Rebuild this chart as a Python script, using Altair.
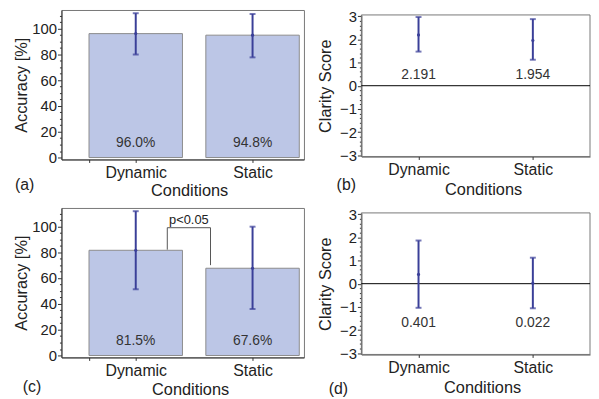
import altair as alt
import pandas as pd

conditions = ["Dynamic", "Static"]
positions = [1, 2]

# (a) accuracy
acc_a_mean = [96.0, 94.8]
acc_a_lo = [79.8, 77.6]
acc_a_hi = [111.8, 111.2]
acc_a_text = ["96.0%", "94.8%"]

# (c) accuracy
acc_c_mean = [81.5, 67.6]
acc_c_lo = [51.3, 36.0]
acc_c_hi = [111.8, 99.8]
acc_c_text = ["81.5%", "67.6%"]

# (b) clarity
clar_b_mean = [2.191, 1.954]
clar_b_lo = [1.47, 1.12]
clar_b_hi = [2.96, 2.87]
clar_b_text = ["2.191", "1.954"]

# (d) clarity
clar_d_mean = [0.401, 0.022]
clar_d_lo = [-1.04, -1.06]
clar_d_hi = [1.86, 1.12]
clar_d_text = ["0.401", "0.022"]

# significance bracket in (c)
bracket_x = [1.27, 1.64]
bracket_y_bottom = [82, 70]
bracket_y_top = 99
bracket_label = "p<0.05"

FONT = "Liberation Sans"
BAR_FILL = "#bcc6e6"
BAR_STROKE = "#8c8c8c"
FRAME = "#777777"
ERR = "#3a3f98"
TXT = "#222222"

label_expr = "datum.value == 1 ? '" + conditions[0] + "' : (datum.value == 2 ? '" + conditions[1] + "' : '')"


def make_df(mean, lo, hi, text, label_y):
    df = pd.DataFrame({"cond": conditions, "pos": positions, "mean": mean,
                       "lo": lo, "hi": hi, "text": text})
    df["x0"] = df["pos"] - 0.4
    df["x1"] = df["pos"] + 0.4
    df["base"] = 0.0
    df["ly"] = label_y
    return df


def errorbars(df, X, Y):
    rule = alt.Chart(df).mark_rule(color=ERR, strokeWidth=2).encode(
        x=X("pos"), y=Y("lo"), y2="hi")
    cap_hi = alt.Chart(df).mark_tick(color=ERR, orient="horizontal", size=6, thickness=2).encode(
        x=X("pos"), y=Y("hi"))
    cap_lo = alt.Chart(df).mark_tick(color=ERR, orient="horizontal", size=6, thickness=2).encode(
        x=X("pos"), y=Y("lo"))
    dot = alt.Chart(df).mark_point(color=ERR, filled=True, size=10, opacity=1).encode(
        x=X("pos"), y=Y("mean"))
    return [rule, cap_hi, cap_lo, dot]


def tag_layer(tag, tx, ty):
    return alt.Chart(pd.DataFrame({"t": [tag]})).mark_text(
        align="left", baseline="middle", fontSize=16, font=FONT, color=TXT).encode(
        x=alt.value(tx), y=alt.value(ty), text="t:N")


def bar_panel(mean, lo, hi, text, tag, tx, ty, xtitle_x, xtitle_y, bracket=False):
    df = make_df(mean, lo, hi, text, 11)
    xs = alt.Scale(domain=[0.364, 2.44], nice=False, zero=False)
    ys = alt.Scale(domain=[-1.5, 114.3], nice=False, zero=False)
    xaxis = alt.Axis(values=[0.6, 1, 2], labelExpr=label_expr, title="Conditions",
                     tickSize=3, labelPadding=2, labelFlush=False, labelOverlap=False,
                     titleX=xtitle_x, titleY=xtitle_y, titleBaseline="middle")
    major = "datum.value % 20 == 0"
    yvals = list(range(0, 115, 5))
    yaxis = alt.Axis(values=yvals, labelExpr=major + " ? datum.label : ''",
                     title="Accuracy [%]",
                     labelFontSize={"condition": {"test": major, "value": 15}, "value": 0},
                     tickSize={"condition": {"test": major, "value": 4}, "value": 2},
                     labelPadding=1, labelFlush=False, labelOverlap=False,
                     titleX=-40, titleBaseline="middle")

    def X(f):
        return alt.X(f, type="quantitative", scale=xs, axis=xaxis)

    def Y(f):
        return alt.Y(f, type="quantitative", scale=ys, axis=yaxis)

    bars = alt.Chart(df).mark_rect(fill=BAR_FILL, stroke=BAR_STROKE, strokeWidth=1).encode(
        x=X("x0"), x2="x1", y=Y("mean"), y2="base")
    labels = alt.Chart(df).mark_text(fontSize=14, font=FONT, color="#333333", baseline="middle").encode(
        x=X("pos"), y=Y("ly"), text="text:N")
    layers = [bars] + errorbars(df, X, Y) + [labels]
    if bracket:
        bdf = pd.DataFrame({
            "x": [bracket_x[0], bracket_x[0], bracket_x[1]],
            "x2": [bracket_x[0], bracket_x[1], bracket_x[1]],
            "y": [bracket_y_bottom[0], bracket_y_top, bracket_y_bottom[1]],
            "y2": [bracket_y_top, bracket_y_top, bracket_y_top],
        })
        br = alt.Chart(bdf).mark_rule(color="#555555", strokeWidth=1).encode(
            x=X("x"), x2="x2", y=Y("y"), y2="y2")
        ldf = pd.DataFrame({"x": [(bracket_x[0] + bracket_x[1]) / 2], "y": [105], "t": [bracket_label]})
        bl = alt.Chart(ldf).mark_text(fontSize=13, font=FONT, color=TXT, baseline="middle").encode(
            x=X("x"), y=Y("y"), text="t:N")
        layers += [br, bl]
    layers.append(tag_layer(tag, tx, ty))
    return alt.layer(*layers).properties(width=245, height=151)


def score_panel(mean, lo, hi, text, label_y, tag, tx, ty, xtitle_x, xtitle_y):
    df = make_df(mean, lo, hi, text, label_y)
    x_dom = [0.5, 2.5]
    y_dom = [-3.05, 3.05]
    xs = alt.Scale(domain=x_dom, nice=False, zero=False)
    # plotting frame sits 5px below the bar panels' top and is 143px tall
    ys = alt.Scale(domain=y_dom, range=[148, 5], nice=False, zero=False)
    xaxis = alt.Axis(values=[1, 2], labelExpr=label_expr, title="Conditions",
                     tickSize=3, labelPadding=2, labelFlush=False, labelOverlap=False,
                     titleX=xtitle_x, titleY=xtitle_y, titleBaseline="middle", offset=-3)
    major = "abs(datum.value - round(datum.value)) < 0.01"
    yvals = [round(-3 + 0.2 * i, 1) for i in range(31)]
    yaxis = alt.Axis(values=yvals,
                     labelExpr=major + " ? replace(format(round(datum.value), 'd'), '-', '\u2212') : ''",
                     title="Clarity Score",
                     labelFontSize={"condition": {"test": major, "value": 15}, "value": 0},
                     tickSize={"condition": {"test": major, "value": 4}, "value": 2},
                     labelPadding=1, labelFlush=False, labelOverlap=False,
                     titleX=-36, titleBaseline="middle")

    def X(f):
        return alt.X(f, type="quantitative", scale=xs, axis=xaxis)

    def Y(f):
        return alt.Y(f, type="quantitative", scale=ys, axis=yaxis)

    fdf = pd.DataFrame({"x": [x_dom[0]], "x2": [x_dom[1]], "y": [y_dom[0]], "y2": [y_dom[1]]})
    frame = alt.Chart(fdf).mark_rect(fillOpacity=0, stroke=FRAME, strokeWidth=1).encode(
        x=X("x"), x2="x2", y=Y("y"), y2="y2")
    zero = alt.Chart(pd.DataFrame({"z": [0.0]})).mark_rule(color="#000000", strokeWidth=1).encode(
        y=Y("z"))
    labels = alt.Chart(df).mark_text(fontSize=14, font=FONT, color="#333333", baseline="middle").encode(
        x=X("pos"), y=Y("ly"), text="text:N")
    layers = [frame, zero] + errorbars(df, X, Y) + [labels, tag_layer(tag, tx, ty)]
    return alt.layer(*layers).properties(width=231, height=151,
                                         view=alt.ViewBackground(strokeOpacity=0))


pa = bar_panel(acc_a_mean, acc_a_lo, acc_a_hi, acc_a_text, "(a)", -47, 177, 129, 31)
pc = bar_panel(acc_c_mean, acc_c_lo, acc_c_hi, acc_c_text, "(c)", -39, 181, 130, 32, bracket=True)
pb = score_panel(clar_b_mean, clar_b_lo, clar_b_hi, clar_b_text, 0.47, "(b)", -25, 177, 123, 33)
pd_ = score_panel(clar_d_mean, clar_d_lo, clar_d_hi, clar_d_text, -1.70, "(d)", -33, 183, 122, 33)

chart = alt.concat(pa, pb, pc, pd_, columns=2, spacing={"row": 49, "column": 58},
                   bounds="flush").properties(
    padding={"left": 5, "top": -1, "right": 0, "bottom": 0}
).configure(font=FONT).configure_view(
    stroke=FRAME, strokeWidth=1
).configure_axis(
    labelFont=FONT, titleFont=FONT, labelFontSize=16, titleFontSize=16.5,
    titleFontWeight="normal", labelColor=TXT, titleColor=TXT,
    domainColor="#333333", tickColor="#333333", grid=False
)

chart.save("out.html", embed_options={"renderer": "svg", "actions": False})
